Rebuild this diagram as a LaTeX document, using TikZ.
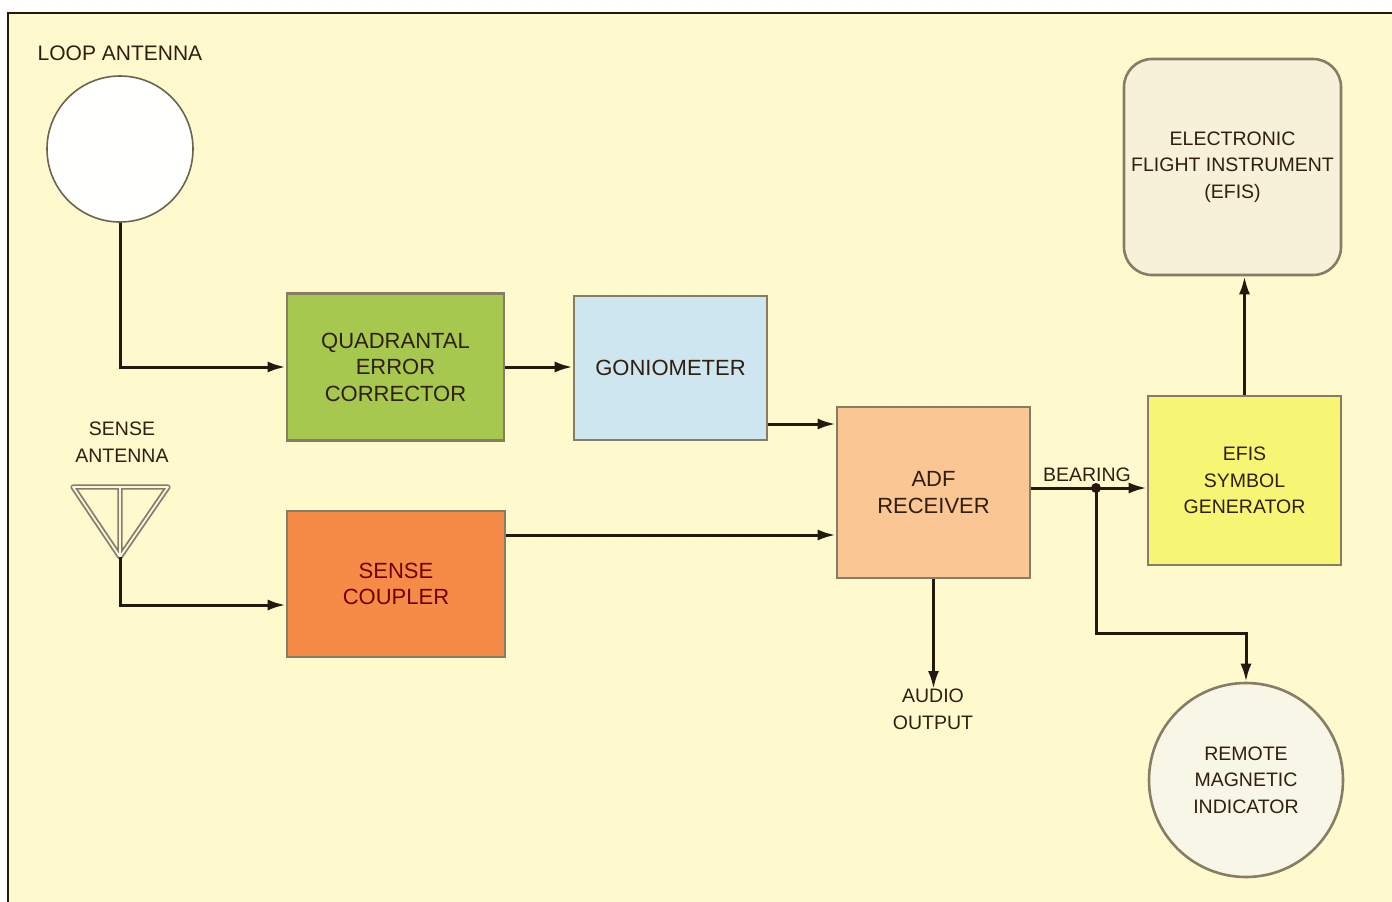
\documentclass[tikz,border=0pt]{standalone}
\usepackage{fontspec}
\setmainfont{Liberation Sans}
\usetikzlibrary{arrows.meta,calc}
\definecolor{cPage}  {RGB}{254,250,206}
\definecolor{cInk}   {RGB}{48,30,14}
\definecolor{cWire}  {RGB}{38,24,14}
\definecolor{cEdge}  {RGB}{135,125,100}
\definecolor{cQuad}  {RGB}{166,200,78}
\definecolor{cGonio} {RGB}{206,230,240}
\definecolor{cAdf}   {RGB}{249,198,148}
\definecolor{cCoupl} {RGB}{244,140,72}
\definecolor{cSym}   {RGB}{246,246,116}
\definecolor{cEfis}  {RGB}{246,241,216}
\definecolor{cDial}  {RGB}{248,246,230}
\tikzset{
  >={Latex[length=18pt,width=11pt]},
  lbl/.style={align=center,text=cInk,font=\fontsize{19.5}{26.5}\selectfont,inner sep=0pt},
  big/.style={font=\fontsize{22}{26.5}\selectfont},
  unit/.style={lbl,draw=cEdge,line width=2.6pt,minimum width=#1},
  unit/.default=193pt,
  dial/.style={lbl,circle,draw=cEdge,line width=2.6pt,fill=cDial},
  wire/.style={cWire,line width=3pt},
}
\begin{document}
\begin{tikzpicture}[x=1pt,y=-1pt]
  \useasboundingbox (0,0) rectangle (1392,902);
  % page
  \fill[cPage] (8,13) rectangle (1392,902);
  \draw[cWire,line width=2pt] (8,902) -- (8,13) -- (1392,13);

  % antennas
  \node[circle,draw=cEdge!80!black,line width=1.6pt,fill=white!96!cPage,minimum size=146pt] (loop) at (120,149) {};
  \node[lbl,font=\fontsize{21}{26}\selectfont] (looplbl) at (120,53) {LOOP ANTENNA};
  \node[lbl] (senselbl) at (122,442) {SENSE\\ANTENNA};
  \coordinate (antL) at (73,487);
  \coordinate (antR) at (168,487);
  \coordinate (antTip) at (120,557);
  \coordinate (antTop) at (120,487);
  \draw[cEdge,line width=1.8pt,double=cDial,double distance=1.8pt,line join=round]
    (antL) -- (antR) -- (antTip) -- cycle (antTop) -- (antTip);

  % blocks
  \node[unit=217pt,big,minimum height=147pt,fill=cQuad] (qec) at (395.5,367) {QUADRANTAL\\ERROR\\CORRECTOR};
  \node[unit,big,minimum height=144pt,fill=cGonio] (gonio) at (670.5,368) {GONIOMETER};
  \node[unit=218pt,big,minimum height=146pt,fill=cCoupl,text=red!45!black] (coupler) at (396,584) {SENSE\\COUPLER};
  \node[unit,big,minimum height=171pt,fill=cAdf] (adf) at (933.5,492.5) {ADF\\RECEIVER};
  \node[unit,minimum height=169pt,fill=cSym] (symgen) at (1244.5,480.5) {EFIS\\SYMBOL\\GENERATOR};
  \node[unit=217pt,minimum height=216pt,fill=cEfis,rounded corners=28pt] (efis) at (1232.5,167)
    {ELECTRONIC\\FLIGHT INSTRUMENT\\(EFIS)};
  \node[dial,minimum size=194pt] (rmi) at (1246,780) {REMOTE\\MAGNETIC\\INDICATOR};
  \node[lbl,anchor=north] (audio) at (933,689) {AUDIO\\OUTPUT};
  \node[lbl,anchor=south] (bearing) at (1087,482) {BEARING};
  \coordinate (split) at (1096,488);

  % signal paths
  \draw[wire,->] (loop.south) |- (qec.west);
  \draw[wire,->] (qec.east) -- (gonio.west |- qec.east);
  \draw[wire,->] (gonio.east |- 0,424) -- (adf.west |- 0,424);
  \draw[wire,->] (antTip) |- (coupler.west |- 0,605);
  \draw[wire,->] (coupler.east |- 0,535) -- (adf.west |- 0,535);
  \draw[wire,->] (adf.east |- split) -- (symgen.west |- split);
  \draw[wire,->] (symgen.north) -- (efis.south -| symgen.north);
  \draw[wire,->] (split) -- (split |- 0,633) -| (rmi.north);
  \draw[wire,->] (adf.south) -- (audio.north -| adf.south);
  \fill[cWire] (split) circle (5pt);
\end{tikzpicture}
\end{document}
